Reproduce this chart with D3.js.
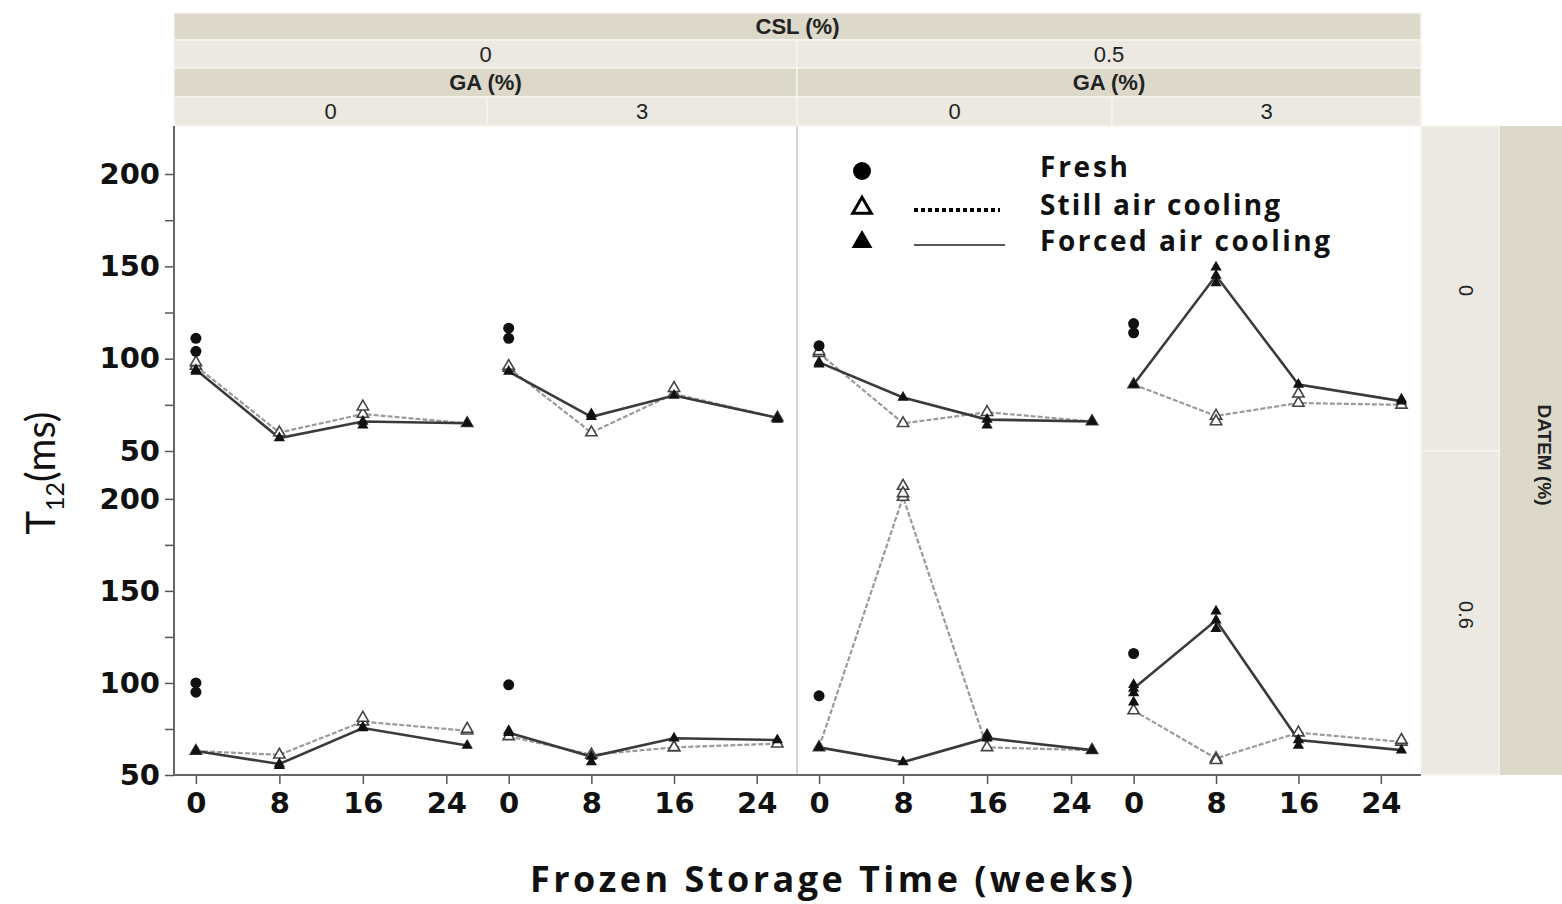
<!DOCTYPE html>
<html><head><meta charset="utf-8">
<script src="https://cdn.jsdelivr.net/npm/d3@7"></script>
<style>body{margin:0;background:#fff}svg{display:block}</style>
</head><body><svg id="c" width="1562" height="904"></svg>
<script>
// ---------- data ----------
const weeks = [0, 8, 16, 26];
const tickWeeks = [0, 8, 16, 24];
const yTicks = [50, 100, 150, 200];
const yMinor = [75, 125, 175];
const cslLevels = ["0", "0.5"];
const gaLevels = ["0", "3"];
const datemLevels = ["0", "0.6"];
const seriesNames = ["Fresh", "Still air cooling", "Forced air cooling"];

// panels: row (DATEM) x column (CSL/GA): [CSL0 GA0, CSL0 GA3, CSL0.5 GA0, CSL0.5 GA3]
const freshValues = [
  [[111, 104], [116.5, 111], [107], [119, 114]],
  [[100, 95], [99], [93], [116]]
];
const stillMeans = [
  [[96, 60, 70, 65], [95, 60, 81, 68], [103, 65, 71, 66], [86, 69, 76, 75]],
  [[63, 61, 79, 74], [71, 61, 65, 67], [65, 201, 65, 63.5], [85, 59, 73, 68]]
];
const forcedMeans = [
  [[94, 57, 66, 65], [93, 68.5, 80, 68], [98, 79, 67, 66], [86, 145, 86, 77]],
  [[63, 56, 75.5, 66], [73, 60, 70, 69], [65, 57, 70, 63.5], [97, 134, 69, 63.5]]
];
const stillReps = [
  [[[16, 74], [0, 98]], [[16, 84], [0, 96]], [[0, 104]], [[8, 66], [16, 81]]],
  [[[16, 81], [26, 75]], [[16, 65]], [[8, 207], [8, 203]], [[8, 58], [26, 69]]]
];
const forcedReps = [
  [[[0, 93], [16, 64]], [[8, 70], [26, 67]], [[16, 64], [0, 97]], [[8, 149.5], [8, 141], [26, 78]]],
  [[[8, 55], [16, 76]], [[8, 57], [0, 74]], [[16, 72]], [[0, 99], [0, 94.5], [0, 89.5], [8, 139], [8, 129.5], [16, 66]]]
];

// ---------- layout ----------
const svg = d3.select("#c");
const plotL = 174, plotR = 1421;
const colEdges = [174, 487, 797, 1112, 1421];
const rowEdges = [126, 451, 775];
const darkBg = "#dcd9ca", lightBg = "#ebe9e1";
const hdrFont = "'Liberation Sans', Arial, sans-serif";
const tickFont = "'DejaVu Sans', Verdana, sans-serif";
const labFont = "'Open Sans', Lato, sans-serif";

// header strips
const hdr = svg.append("g");
function cell(x0, x1, y0, y1, fill, text, bold) {
  hdr.append("rect").attr("x", x0).attr("y", y0).attr("width", x1 - x0).attr("height", y1 - y0)
    .attr("fill", fill).attr("stroke", "#f6f5f0").attr("stroke-width", 1.5);
  hdr.append("text").attr("x", (x0 + x1) / 2).attr("y", (y0 + y1) / 2 + 7.5)
    .attr("text-anchor", "middle").attr("font-family", hdrFont)
    .attr("font-size", 22).attr("font-weight", bold ? "bold" : "normal").attr("fill", "#222").text(text);
}
cell(174, 1421, 13, 40, darkBg, "CSL (%)", true);
cslLevels.forEach((c, i) => cell(colEdges[i * 2], colEdges[i * 2 + 2], 40, 68, lightBg, c, false));
cslLevels.forEach((c, i) => cell(colEdges[i * 2], colEdges[i * 2 + 2], 68, 97, darkBg, "GA (%)", true));
for (let j = 0; j < 4; j++) cell(colEdges[j], colEdges[j + 1], 97, 126, lightBg, gaLevels[j % 2], false);

// right strip
hdr.append("rect").attr("x", 1499).attr("y", 126).attr("width", 63).attr("height", 649).attr("fill", darkBg);
hdr.append("text").attr("transform", "translate(1538,455) rotate(90)").attr("text-anchor", "middle")
  .attr("font-family", hdrFont).attr("font-size", 19).attr("font-weight", "bold").attr("fill", "#222").text("DATEM (%)");
datemLevels.forEach((d, r) => {
  hdr.append("rect").attr("x", 1421).attr("y", rowEdges[r]).attr("width", 78).attr("height", rowEdges[r + 1] - rowEdges[r])
    .attr("fill", lightBg).attr("stroke", "#f6f5f0").attr("stroke-width", 1.5);
  hdr.append("text").attr("transform", `translate(1466,${(rowEdges[r] + rowEdges[r + 1]) / 2 + 2}) rotate(90)`)
    .attr("text-anchor", "middle").attr("dy", "0.35em").attr("font-family", hdrFont).attr("font-size", 20)
    .attr("fill", "#222").text(d);
});

// separator between CSL groups
svg.append("line").attr("x1", 797).attr("x2", 797).attr("y1", 126).attr("y2", 775)
  .attr("stroke", "#d4d4d4").attr("stroke-width", 2);

const triangle = d3.symbol().type(d3.symbolTriangle).size(55);

for (let r = 0; r < 2; r++) {
  const y = d3.scaleLinear().domain([50, 226]).range([rowEdges[r + 1], rowEdges[r]]);
  const ym = svg.append("g").attr("transform", `translate(${plotL},0)`);
  ym.call(d3.axisLeft(y).tickValues(yMinor).tickSize(9).tickFormat(""));
  const yg = svg.append("g").attr("transform", `translate(${plotL},0)`);
  yg.call(d3.axisLeft(y).tickValues(yTicks).tickSize(9).tickPadding(5).tickFormat(d3.format("d")));
  [ym, yg].forEach(a => {
    a.selectAll(".domain").remove();
    a.selectAll(".tick line").attr("stroke", "#555").attr("stroke-width", 1.5);
  });
  yg.selectAll("text").attr("font-family", tickFont).attr("font-weight", "bold").attr("font-size", 29).attr("fill", "#111");

  for (let c = 0; c < 4; c++) {
    const x = d3.scaleLinear().domain([-2.1, 27.9]).range([colEdges[c], colEdges[c + 1]]);
    const g = svg.append("g");
    const still = weeks.map((w, i) => [w, stillMeans[r][c][i]]);
    const forced = weeks.map((w, i) => [w, forcedMeans[r][c][i]]);
    const line = d3.line().x(d => x(d[0])).y(d => y(d[1]));
    g.append("path").attr("d", line(still)).attr("fill", "none").attr("stroke", "#9a9a9a")
      .attr("stroke-width", 2.2).attr("stroke-dasharray", "5,2");
    g.append("path").attr("d", line(forced)).attr("fill", "none").attr("stroke", "#3a3a3a").attr("stroke-width", 2.6);
    still.concat(stillReps[r][c]).forEach(d => {
      g.append("path").attr("d", triangle).attr("transform", `translate(${x(d[0])},${y(d[1])})`)
        .attr("fill", "#fff").attr("stroke", "#444").attr("stroke-width", 1.6);
    });
    forced.concat(forcedReps[r][c]).forEach(d => {
      g.append("path").attr("d", triangle).attr("transform", `translate(${x(d[0])},${y(d[1])})`)
        .attr("fill", "#111");
    });
    freshValues[r][c].forEach(v => {
      g.append("circle").attr("cx", x(0)).attr("cy", y(v)).attr("r", 5.5).attr("fill", "#111");
    });
    if (r === 1) {
      const xg = svg.append("g").attr("transform", `translate(0,775)`);
      xg.call(d3.axisBottom(x).tickValues(tickWeeks).tickSize(9).tickPadding(8));
      xg.selectAll(".domain").remove();
      xg.selectAll(".tick line").attr("stroke", "#555").attr("stroke-width", 1.5);
      xg.selectAll("text").attr("font-family", tickFont).attr("font-weight", "bold").attr("font-size", 29).attr("fill", "#111");
    }
  }
}
svg.append("line").attr("x1", plotL).attr("x2", plotL).attr("y1", 126).attr("y2", 775).attr("stroke", "#666").attr("stroke-width", 2);
svg.append("line").attr("x1", plotL).attr("x2", plotR).attr("y1", 775).attr("y2", 775).attr("stroke", "#666").attr("stroke-width", 2);

// legend
const lg = svg.append("g");
lg.append("circle").attr("cx", 862).attr("cy", 171).attr("r", 9).attr("fill", "#000");
lg.append("path").attr("d", d3.symbol().type(d3.symbolTriangle).size(150))
  .attr("transform", "translate(862,208)").attr("fill", "#fff").attr("stroke", "#000").attr("stroke-width", 3);
lg.append("path").attr("d", d3.symbol().type(d3.symbolTriangle).size(190))
  .attr("transform", "translate(862,242)").attr("fill", "#000");
lg.append("line").attr("x1", 914).attr("x2", 1000).attr("y1", 210).attr("y2", 210)
  .attr("stroke", "#000").attr("stroke-width", 4).attr("stroke-dasharray", "4,3");
lg.append("line").attr("x1", 914).attr("x2", 1005).attr("y1", 245).attr("y2", 245)
  .attr("stroke", "#222").attr("stroke-width", 1.5);
const legendWidths = [88, 240, 290];
seriesNames.forEach((s, i) => {
  lg.append("text").attr("x", 1040).attr("y", [177, 215, 251][i]).attr("font-family", labFont)
    .attr("font-weight", "bold").attr("font-size", 28).attr("fill", "#111")
    .attr("textLength", legendWidths[i]).attr("lengthAdjust", "spacing").text(s);
});

// axis titles
svg.append("text").attr("x", 530).attr("y", 892).attr("font-family", labFont)
  .attr("font-weight", "bold").attr("font-size", 36).attr("fill", "#111")
  .attr("textLength", 603).attr("lengthAdjust", "spacing").text("Frozen Storage Time (weeks)");
const yt = svg.append("text").attr("transform", "translate(55,473) rotate(-90)").attr("text-anchor", "middle")
  .attr("font-family", "Lato, sans-serif").attr("font-size", 40).attr("fill", "#111");
yt.append("tspan").text("T");
yt.append("tspan").attr("font-size", 25).attr("dy", 9).text("12");
yt.append("tspan").attr("dy", -9).text("(ms)");
</script></body></html>
